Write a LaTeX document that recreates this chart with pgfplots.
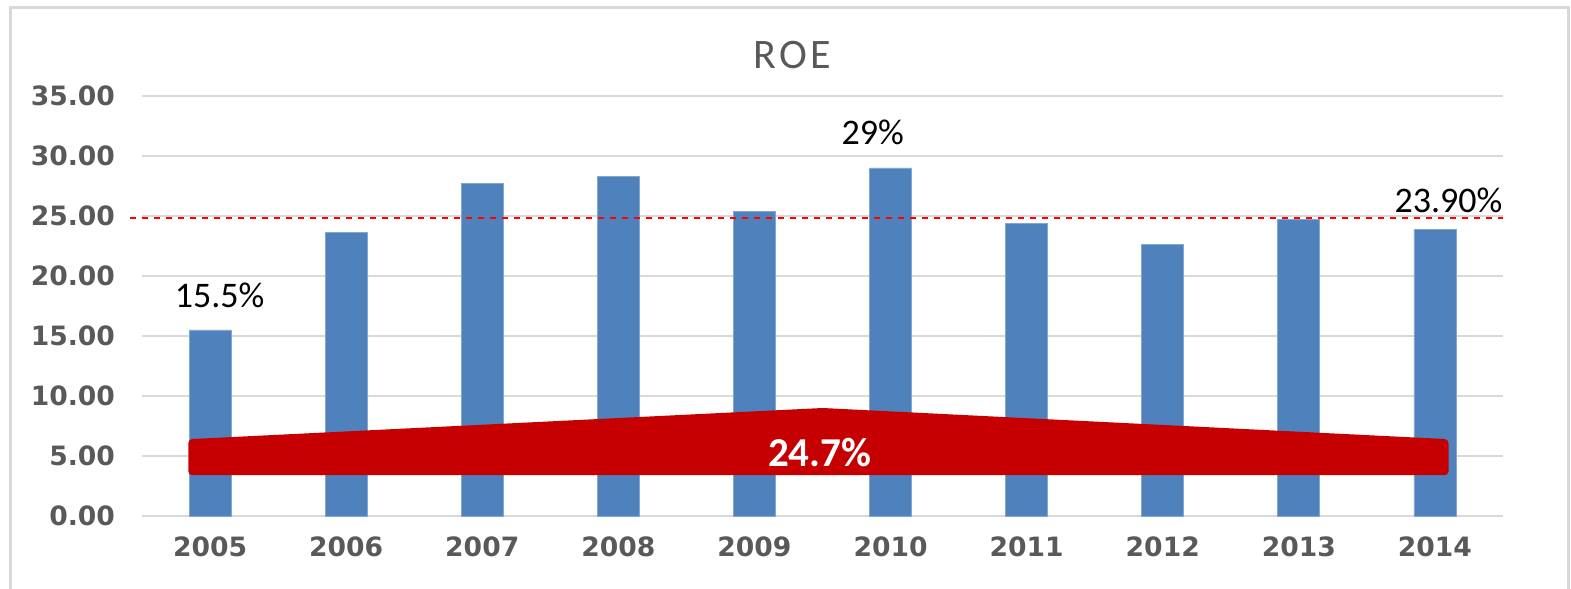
\documentclass[border=0pt]{standalone}
\usepackage{pgfplots}
\pgfplotsset{compat=1.18}
\usepackage{fontspec}
\setmainfont{Carlito}
\newfontfamily\tickfont{DejaVu Sans}
\definecolor{barblue}{HTML}{4F81BD}
\definecolor{darkred}{HTML}{C60000}
\definecolor{gridgray}{HTML}{D9D9D9}
\definecolor{txtgray}{HTML}{595959}
\begin{document}
\begin{tikzpicture}[x=1pt,y=1pt]
\useasboundingbox (-71,-36.5) rectangle (714.5,258);
\draw[gridgray, line width=1.5pt] (-65.5,-40) -- (-65.5,254) -- (713,254) -- (713,-40);
\begin{axis}[
  at={(0,0)}, anchor=south west,
  scale only axis, width=680.5pt, height=210pt,
  xmin=-0.5, xmax=9.5, ymin=0, ymax=35,
  clip=false,
  axis line style={draw=none},
  tick style={draw=none},
  ymajorgrids, major grid style={gridgray, line width=0.8pt},
  ytick={0,5,...,35},
  xtick={0,...,9},
  xticklabels={2005,2006,2007,2008,2009,2010,2011,2012,2013,2014},
  /pgf/number format/assume math mode=true,
  yticklabel style={/pgf/number format/fixed, /pgf/number format/fixed zerofill, /pgf/number format/precision=2, xshift=-10pt},
  ticklabel style={font=\tickfont\bfseries\fontsize{13.3}{15}\selectfont, text=txtgray},
  xticklabel style={yshift=-7pt},
]
\addplot[ybar, bar width=21pt, fill=barblue, draw=barblue!70!white] coordinates {
(0,15.5) (1,23.6) (2,27.7) (3,28.3) (4,25.4) (5,29.0) (6,24.4) (7,22.6) (8,24.7) (9,23.9)};
\addplot[draw=none, fill=darkred, rounded corners=2pt] coordinates {
(-0.16,3.4) (-0.16,6.4) (4.5,9.0) (9.1,6.4) (9.1,3.4)} -- cycle;
\addplot[red, dashed, line width=1pt] coordinates {(-0.59,24.8) (9.5,24.8)};
\node[font=\bfseries\fontsize{20.5}{24}\selectfont, text=white] at (axis cs:4.48,5.3) {24.7\%};
\node[font=\fontsize{18}{22}\selectfont] at (axis cs:0.07,18.4) {15.5\%};
\node[font=\fontsize{18}{22}\selectfont] at (axis cs:4.87,32.0) {29\%};
\node[font=\fontsize{18}{22}\selectfont] at (axis cs:9.1,26.3) {23.90\%};
\node[font=\fontsize{21}{24}\selectfont\addfontfeature{LetterSpace=8}, text=txtgray] at (axis cs:4.28,38.4) {ROE};
\end{axis}
\end{tikzpicture}
\end{document}
